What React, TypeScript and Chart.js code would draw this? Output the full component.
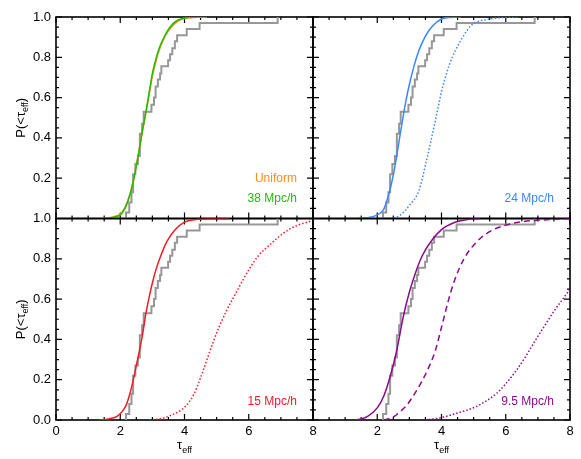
import React, { useEffect, useRef } from "react";
import { Chart, registerables } from "chart.js";
Chart.register(...registerables);

const W = 581;
const H = 459;
const FONT = "'Liberation Sans', Arial, Helvetica, sans-serif";

// Observed empirical CDF (same in every panel)
const obsTau = [2.18, 2.18, 2.28, 2.35, 2.40, 2.47, 2.55, 2.61, 2.68, 2.73, 2.97, 3.05, 3.10, 3.17, 3.24, 3.28, 3.49, 3.55, 3.62, 3.70, 3.77, 4.07, 4.47, 6.90];
const obsCdf = [0, 0.03, 0.08, 0.13, 0.22, 0.27, 0.31, 0.42, 0.47, 0.53, 0.565, 0.60, 0.655, 0.69, 0.72, 0.755, 0.785, 0.815, 0.845, 0.88, 0.91, 0.94, 0.97, 1.0];

// Uniform model
const uniTau = [1.4, 1.7, 1.9, 2.0, 2.15, 2.3, 2.4, 2.5, 2.6, 2.7, 2.8, 2.9, 3.0, 3.1, 3.2, 3.4, 3.6, 3.8, 4.0, 4.3, 4.7];
const uniCdf = [0, 0.005, 0.014, 0.022, 0.057, 0.12, 0.185, 0.262, 0.35, 0.442, 0.525, 0.615, 0.705, 0.772, 0.83, 0.905, 0.952, 0.98, 0.992, 0.998, 1.0];

// 38 Mpc/h
const m38Tau = [1.5, 1.7, 1.9, 2.0, 2.15, 2.3, 2.4, 2.5, 2.6, 2.7, 2.8, 2.9, 3.0, 3.1, 3.2, 3.4, 3.6, 3.8, 4.0, 4.3, 4.5];
const m38Cdf = [0, 0.003, 0.01, 0.017, 0.05, 0.115, 0.18, 0.26, 0.35, 0.445, 0.53, 0.625, 0.72, 0.785, 0.84, 0.912, 0.96, 0.985, 0.995, 0.999, 1.0];

// 24 Mpc/h (solid, dotted)
const m24Tau = [1.4, 1.7, 2.0, 2.2, 2.35, 2.5, 2.6, 2.7, 2.8, 2.9, 3.0, 3.15, 3.3, 3.5, 3.7, 4.0, 4.3, 4.6];
const m24Cdf = [0, 0.004, 0.018, 0.045, 0.115, 0.215, 0.305, 0.405, 0.5, 0.59, 0.665, 0.76, 0.835, 0.905, 0.952, 0.99, 0.998, 1.0];
const m24bTau = [2.4, 2.7, 3.0, 3.3, 3.5, 3.65, 3.8, 3.9, 4.0, 4.1, 4.25, 4.45, 4.7, 4.9, 5.1, 5.5, 6.0, 6.4];
const m24bCdf = [0, 0.015, 0.065, 0.14, 0.265, 0.37, 0.48, 0.555, 0.63, 0.69, 0.765, 0.84, 0.91, 0.955, 0.975, 0.99, 0.998, 1.0];

// 15 Mpc/h (solid, dotted)
const m15Tau = [1.35, 1.6, 1.9, 2.1, 2.2, 2.3, 2.4, 2.5, 2.6, 2.7, 2.8, 2.9, 3.0, 3.1, 3.25, 3.45, 3.7, 4.0, 4.4, 5.0, 5.4];
const m15Cdf = [0, 0.004, 0.018, 0.05, 0.08, 0.13, 0.195, 0.27, 0.345, 0.43, 0.53, 0.61, 0.68, 0.74, 0.81, 0.885, 0.943, 0.982, 0.996, 0.999, 1.0];
const m15bTau = [2.9, 3.3, 3.6, 3.9, 4.1, 4.3, 4.5, 4.7, 4.9, 5.1, 5.3, 5.6, 6.0, 6.3, 6.66, 7.1, 7.5, 8.0];
const m15bCdf = [0, 0.008, 0.025, 0.05, 0.08, 0.13, 0.21, 0.3, 0.39, 0.47, 0.54, 0.63, 0.745, 0.815, 0.87, 0.93, 0.965, 0.99];

// 9.5 Mpc/h (solid, dashed, dotted)
const m95Tau = [1.3, 1.5, 1.7, 2.0, 2.2, 2.4, 2.6, 2.8, 3.0, 3.2, 3.4, 3.7, 4.0, 4.4, 4.8, 5.2];
const m95Cdf = [0, 0.005, 0.018, 0.06, 0.118, 0.215, 0.34, 0.505, 0.635, 0.735, 0.815, 0.892, 0.945, 0.98, 0.995, 1.0];
const m95bTau = [2.2, 2.5, 2.7, 2.9, 3.1, 3.4, 3.6, 3.8, 4.0, 4.2, 4.4, 4.7, 5.1, 5.5, 6.0, 6.5, 7.4, 8.0];
const m95bCdf = [0, 0.015, 0.04, 0.07, 0.115, 0.195, 0.26, 0.34, 0.46, 0.585, 0.69, 0.8, 0.885, 0.935, 0.967, 0.984, 0.995, 1.0];
const m95cTau = [3.5, 4.0, 4.5, 5.1, 5.7, 6.0, 6.3, 6.6, 6.9, 7.2, 7.5, 7.8, 8.0];
const m95cCdf = [0, 0.012, 0.035, 0.068, 0.13, 0.18, 0.24, 0.31, 0.39, 0.465, 0.54, 0.605, 0.65];

const xMajor = [0, 2, 4, 6, 8];

const GRAY = "#979797";
const ORANGE = "#ff8a1e";
const GREEN = "#1fbf00";
const BLUE = "#3a86ff";
const RED = "#f51a24";
const PURPLE = "#8c0a8c";

const pts = (xs: number[], ys: number[]) => xs.map((x, i) => ({ x, y: ys[i] }));

type Line = { xs: number[]; ys: number[]; color: string; dash?: number[]; width?: number; stepped?: boolean };
type Note = { text: string; color: string; y: number };
type Panel = {
  left: number; top: number; right: number; bottom: number;
  yLabels: boolean; xLabels: boolean; hideY0: boolean; hideX0: boolean;
  lines: Line[]; notes: Note[];
};

const obsLine: Line = { xs: obsTau, ys: obsCdf, color: GRAY, width: 2, stepped: true };

const L = 56, MID = 313, R = 570, T = 17, HM = 218.5, B = 420;

const panels: Panel[] = [
  {
    left: L, top: T, right: MID, bottom: HM, yLabels: true, xLabels: false, hideY0: true, hideX0: false,
    lines: [
      { xs: m38Tau, ys: m38Cdf, color: GREEN },
      { xs: uniTau, ys: uniCdf, color: ORANGE },
      obsLine,
    ],
    notes: [{ text: "Uniform", color: ORANGE, y: 0.2 }, { text: "38 Mpc/h", color: GREEN, y: 0.097 }],
  },
  {
    left: MID, top: T, right: R, bottom: HM, yLabels: false, xLabels: false, hideY0: true, hideX0: true,
    lines: [
      { xs: m24Tau, ys: m24Cdf, color: BLUE },
      { xs: m24bTau, ys: m24bCdf, color: BLUE, dash: [1.5, 2] },
      obsLine,
    ],
    notes: [{ text: "24 Mpc/h", color: BLUE, y: 0.097 }],
  },
  {
    left: L, top: HM, right: MID, bottom: B, yLabels: true, xLabels: true, hideY0: false, hideX0: false,
    lines: [
      { xs: m15Tau, ys: m15Cdf, color: RED },
      { xs: m15bTau, ys: m15bCdf, color: RED, dash: [1.5, 2] },
      obsLine,
    ],
    notes: [{ text: "15 Mpc/h", color: RED, y: 0.09 }],
  },
  {
    left: MID, top: HM, right: R, bottom: B, yLabels: false, xLabels: true, hideY0: false, hideX0: true,
    lines: [
      { xs: m95Tau, ys: m95Cdf, color: PURPLE },
      { xs: m95bTau, ys: m95bCdf, color: PURPLE, dash: [6, 4] },
      { xs: m95cTau, ys: m95cCdf, color: PURPLE, dash: [1.5, 2] },
      obsLine,
    ],
    notes: [{ text: "9.5 Mpc/h", color: PURPLE, y: 0.09 }],
  },
];

const Y_AXIS_W = 40;
const X_AXIS_H = 22;

function drawSubText(ctx: CanvasRenderingContext2D, parts: { t: string; sub: boolean }[], cx: number, cy: number) {
  const big = `13px ${FONT}`;
  const small = `9px ${FONT}`;
  let total = 0;
  const widths = parts.map((p) => {
    ctx.font = p.sub ? small : big;
    const w = ctx.measureText(p.t).width;
    total += w;
    return w;
  });
  let x = cx - total / 2;
  ctx.textAlign = "left";
  ctx.textBaseline = "alphabetic";
  parts.forEach((p, i) => {
    ctx.font = p.sub ? small : big;
    ctx.fillText(p.t, x, cy + (p.sub ? 3.5 : 0));
    x += widths[i];
  });
}

function makeConfig(p: Panel): any {
  const framePlugin = {
    id: "frame",
    beforeDatasetsDraw(chart: any) {
      const { ctx, chartArea: a, scales } = chart;
      const xs = scales.x;
      const ys = scales.y;
      ctx.save();
      ctx.strokeStyle = "#000";
      ctx.lineWidth = 1.2;
      ctx.beginPath();
      for (let i = 0; i <= 16; i++) {
        const v = i * 0.5;
        const px = xs.getPixelForValue(v);
        const len = xMajor.includes(v) ? 6 : 3;
        ctx.moveTo(px, a.bottom); ctx.lineTo(px, a.bottom - len);
        ctx.moveTo(px, a.top); ctx.lineTo(px, a.top + len);
      }
      for (let i = 0; i <= 20; i++) {
        const v = i * 0.05;
        const py = ys.getPixelForValue(v);
        const len = i % 4 === 0 ? 6 : 3;
        ctx.moveTo(a.left, py); ctx.lineTo(a.left + len, py);
        ctx.moveTo(a.right, py); ctx.lineTo(a.right - len, py);
      }
      ctx.stroke();
      ctx.lineWidth = 1.6;
      ctx.strokeRect(a.left, a.top, a.right - a.left, a.bottom - a.top);
      ctx.restore();
    },
    afterDraw(chart: any) {
      const { ctx, chartArea: a, scales } = chart;
      ctx.save();
      ctx.font = `12px ${FONT}`;
      ctx.textAlign = "right";
      ctx.textBaseline = "middle";
      p.notes.forEach((n) => {
        ctx.fillStyle = n.color;
        ctx.fillText(n.text, scales.x.getPixelForValue(7.5), scales.y.getPixelForValue(n.y));
      });
      ctx.fillStyle = "#000";
      if (p.yLabels) {
        ctx.save();
        ctx.translate(20, (a.top + a.bottom) / 2);
        ctx.rotate(-Math.PI / 2);
        drawSubText(ctx, [{ t: "P(<\u03c4", sub: false }, { t: "eff", sub: true }, { t: ")", sub: false }], 0, 4.5);
        ctx.restore();
      }
      if (p.xLabels) {
        drawSubText(ctx, [{ t: "\u03c4", sub: false }, { t: "eff", sub: true }], (a.left + a.right) / 2, 449);
      }
      ctx.restore();
    },
  };

  return {
    type: "line",
    data: {
      datasets: p.lines.map((ln) => ({
        data: pts(ln.xs, ln.ys),
        borderColor: ln.color,
        backgroundColor: ln.color,
        borderWidth: ln.width ?? 1.5,
        borderDash: ln.dash ?? [],
        pointRadius: 0,
        fill: false,
        stepped: ln.stepped ? true : false,
        cubicInterpolationMode: ln.stepped ? "default" : "monotone",
      })),
    },
    options: {
      animation: false,
      responsive: false,
      events: [],
      layout: {
        padding: {
          left: p.yLabels ? p.left - Y_AXIS_W : p.left,
          top: p.top,
          right: W - p.right,
          bottom: p.xLabels ? H - p.bottom - X_AXIS_H : H - p.bottom,
        },
      },
      plugins: { legend: { display: false }, tooltip: { enabled: false }, title: { display: false } },
      scales: {
        x: {
          type: "linear",
          min: 0,
          max: 8,
          display: p.xLabels,
          afterFit: (s: any) => { s.height = p.xLabels ? X_AXIS_H : 0; },
          grid: { display: false, drawTicks: false },
          border: { display: false },
          ticks: {
            stepSize: 2,
            padding: 4,
            color: "#000",
            autoSkip: false,
            maxRotation: 0,
            font: { family: FONT, size: 13 },
            callback: (v: number) => (p.hideX0 && v === 0 ? "" : String(v)),
          },
        },
        y: {
          type: "linear",
          min: 0,
          max: 1,
          display: p.yLabels,
          afterFit: (s: any) => { s.width = p.yLabels ? Y_AXIS_W : 0; },
          grid: { display: false, drawTicks: false },
          border: { display: false },
          ticks: {
            stepSize: 0.2,
            padding: 5,
            color: "#000",
            autoSkip: false,
            font: { family: FONT, size: 13 },
            callback: (v: number) => (p.hideY0 && Math.abs(v) < 1e-6 ? "" : Number(v).toFixed(1)),
          },
        },
      },
    },
    plugins: [framePlugin],
  };
}

export default function App() {
  const refs = [useRef<HTMLCanvasElement>(null), useRef<HTMLCanvasElement>(null), useRef<HTMLCanvasElement>(null), useRef<HTMLCanvasElement>(null)];
  useEffect(() => {
    document.body.style.margin = "0";
    const charts = panels.map((p, i) => new Chart(refs[i].current as HTMLCanvasElement, makeConfig(p)));
    return () => charts.forEach((c) => c.destroy());
  }, []);
  return (
    <div style={{ position: "absolute", left: 0, top: 0, width: W, height: H, background: "#fff" }}>
      {refs.map((r, i) => (
        <canvas key={i} ref={r} width={W} height={H} style={{ position: "absolute", left: 0, top: 0, width: W, height: H }} />
      ))}
    </div>
  );
}
